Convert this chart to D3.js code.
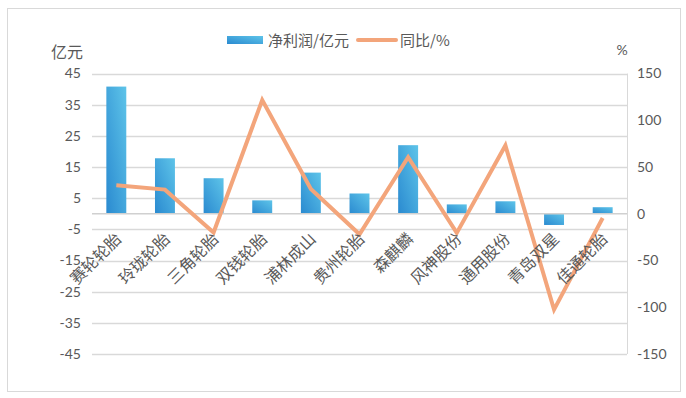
<!DOCTYPE html>
<html>
<head>
<meta charset="utf-8">
<script src="https://cdn.jsdelivr.net/npm/d3@7"></script>
<style>
  html, body { margin: 0; padding: 0; background: #fff; }
  svg { display: block; }
</style>
</head>
<body>
<div id="chart"></div>
<script>
// 数据
const companies = ['赛轮轮胎', '玲珑轮胎', '三角轮胎', '双钱轮胎', '浦林成山', '贵州轮胎', '森麒麟', '风神股份', '通用股份', '青岛双星', '佳通轮胎'];
const netProfit = [40.8, 17.8, 11.4, 4.3, 13.2, 6.5, 22.0, 3.0, 4.0, -3.6, 2.1];
const yoy = [30.4, 25.8, -20, 121.5, 26.5, -22, 60.4, -20.5, 73, -102.5, -4.6];
const leftTicks = [45, 35, 25, 15, 5, -5, -15, -25, -35, -45];
const rightTicks = [150, 100, 50, 0, -50, -100, -150];

const width = 686;
const height = 398;
const textColor = '#595959';
const numFont = 'Lato, "Open Sans", sans-serif';
const cjkFont = '"Noto Sans CJK SC", sans-serif';

const svg = d3.select('#chart').append('svg')
    .attr('width', width)
    .attr('height', height);

// 渐变
const defs = svg.append('defs');
const grad = defs.append('linearGradient')
    .attr('id', 'barGrad')
    .attr('x1', 0).attr('y1', 1)
    .attr('x2', 1).attr('y2', 0);
grad.append('stop').attr('offset', '0%').attr('stop-color', '#2a8ad0');
grad.append('stop').attr('offset', '100%').attr('stop-color', '#5ec4e9');

// 外框
svg.append('rect')
    .attr('x', 7.5).attr('y', 8.5)
    .attr('width', 673).attr('height', 383)
    .attr('fill', 'none')
    .attr('stroke', '#d9d9d9');

// 比例尺
const x = d3.scaleBand()
    .domain(companies)
    .range([92, 627])
    .paddingInner(0.59)
    .paddingOuter(0.295);
const yLeft = d3.scaleLinear().domain([-45, 45]).range([354, 73.5]);
const yRight = d3.scaleLinear().domain([-150, 150]).range([354, 73.5]);

// 网格线
svg.append('g')
    .selectAll('line')
    .data(leftTicks)
    .enter()
    .append('line')
    .attr('x1', 92).attr('x2', 627)
    .attr('y1', d => Math.round(yLeft(d)) + 0.5)
    .attr('y2', d => Math.round(yLeft(d)) + 0.5)
    .attr('stroke', '#d9d9d9')
    .attr('stroke-width', 1.5);
svg.append('line')
    .attr('x1', 627.5).attr('x2', 627.5)
    .attr('y1', yLeft(45)).attr('y2', yLeft(-45))
    .attr('stroke', '#d9d9d9');

// 左轴
svg.append('g')
    .selectAll('text')
    .data(leftTicks)
    .enter()
    .append('text')
    .attr('x', 81)
    .attr('y', d => yLeft(d))
    .attr('dy', '0.35em')
    .attr('text-anchor', 'end')
    .attr('font-family', numFont)
    .attr('font-size', 14)
    .attr('fill', textColor)
    .text(d => d);

// 右轴
svg.append('g')
    .selectAll('text')
    .data(rightTicks)
    .enter()
    .append('text')
    .attr('x', 637)
    .attr('y', d => yRight(d))
    .attr('dy', '0.35em')
    .attr('font-family', numFont)
    .attr('font-size', 14)
    .attr('fill', textColor)
    .text(d => d);

// 轴标题
svg.append('text')
    .attr('x', 67).attr('y', 58)
    .attr('text-anchor', 'middle')
    .attr('font-family', cjkFont)
    .attr('font-size', 16)
    .attr('fill', textColor)
    .text('亿元');
svg.append('text')
    .attr('x', 622).attr('y', 55)
    .attr('text-anchor', 'middle')
    .attr('font-family', numFont)
    .attr('font-size', 14)
    .attr('fill', textColor)
    .text('%');

// 柱
svg.append('g')
    .selectAll('rect')
    .data(netProfit)
    .enter()
    .append('rect')
    .attr('x', (d, i) => x(companies[i]))
    .attr('width', x.bandwidth())
    .attr('y', d => yLeft(Math.max(0, d)))
    .attr('height', d => Math.abs(yLeft(d) - yLeft(0)))
    .attr('fill', 'url(#barGrad)');

// 零线
svg.append('line')
    .attr('x1', 92).attr('x2', 627)
    .attr('y1', yLeft(0)).attr('y2', yLeft(0))
    .attr('stroke', '#d0d0d0')
    .attr('stroke-width', 1.5);

// 折线
const line = d3.line()
    .x((d, i) => x(companies[i]) + x.bandwidth() / 2)
    .y(d => yRight(d));
svg.append('path')
    .datum(yoy)
    .attr('d', line)
    .attr('fill', 'none')
    .attr('stroke', '#f3a57b')
    .attr('stroke-width', 4)
    .attr('stroke-linejoin', 'miter');

// 类别标签
svg.append('g')
    .selectAll('text')
    .data(companies)
    .enter()
    .append('text')
    .attr('transform', d => 'translate(' + (x(d) + x.bandwidth() / 2 + 6) + ',240) rotate(-45)')
    .attr('text-anchor', 'end')
    .attr('font-family', cjkFont)
    .attr('font-size', 16)
    .attr('fill', textColor)
    .text(d => d);

// 图例
const legend = svg.append('g');
legend.append('rect')
    .attr('x', 227).attr('y', 36)
    .attr('width', 36).attr('height', 8)
    .attr('fill', 'url(#barGrad)');
legend.append('text')
    .attr('x', 268).attr('y', 46)
    .attr('font-family', cjkFont)
    .attr('font-size', 15)
    .attr('fill', textColor)
    .text('净利润/亿元');
legend.append('line')
    .attr('x1', 358).attr('x2', 396)
    .attr('y1', 40).attr('y2', 40)
    .attr('stroke', '#f3a57b')
    .attr('stroke-width', 4)
    .attr('stroke-linecap', 'round');
legend.append('text')
    .attr('x', 400).attr('y', 46)
    .attr('font-family', cjkFont)
    .attr('font-size', 15)
    .attr('fill', textColor)
    .text('同比/%');
</script>
</body>
</html>
